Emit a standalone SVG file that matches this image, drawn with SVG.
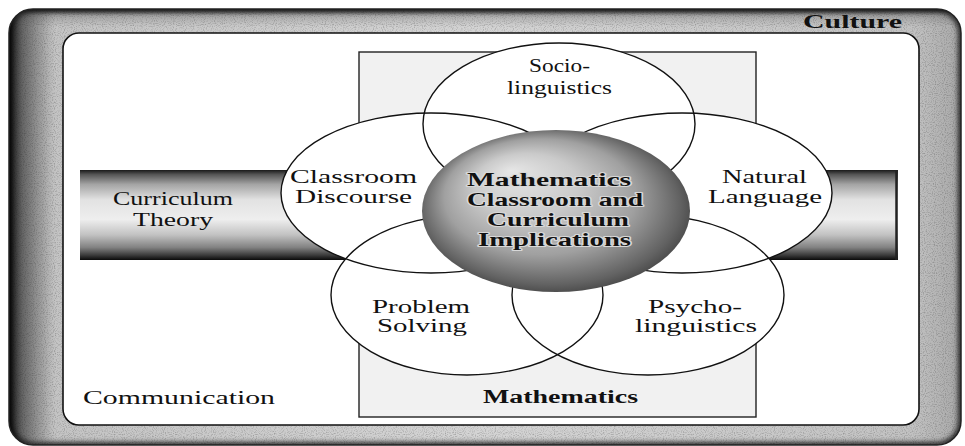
<svg xmlns="http://www.w3.org/2000/svg" width="965" height="446" viewBox="0 0 965 446">
<style>
.t{font-family:"Liberation Serif","Times New Roman",serif;font-size:18px;fill:#111}
.b{font-weight:bold}
.h{stroke:#d8d8d8;stroke-width:2.2px;paint-order:stroke;stroke-linejoin:round}
.ol{fill:none;stroke:#111;stroke-width:1.4}
.wf{fill:#fff}
</style>
<defs>
<clipPath id="outerClip"><rect x="9" y="9" width="952" height="436" rx="24"/></clipPath>
<linearGradient id="borderGrad" x1="0" y1="0" x2="1" y2="0">
<stop offset="0" stop-color="#8a8a8a"/><stop offset="0.05" stop-color="#c4c4c4"/><stop offset="0.5" stop-color="#d4d4d4"/><stop offset="0.95" stop-color="#c2c2c2"/><stop offset="1" stop-color="#a8a8a8"/>
</linearGradient>
<linearGradient id="leftShade" x1="0" y1="0" x2="1" y2="0">
<stop offset="0" stop-color="#000" stop-opacity="0.9"/><stop offset="0.3" stop-color="#222" stop-opacity="0.45"/><stop offset="1" stop-color="#555" stop-opacity="0"/>
</linearGradient>
<linearGradient id="topShade" x1="0" y1="0" x2="0" y2="1">
<stop offset="0" stop-color="#000" stop-opacity="0.7"/><stop offset="0.35" stop-color="#333" stop-opacity="0.25"/><stop offset="1" stop-color="#555" stop-opacity="0"/>
</linearGradient>
<filter id="soft" x="-5%" y="-5%" width="110%" height="110%"><feGaussianBlur stdDeviation="2.5"/></filter>
<filter id="grain" x="0" y="0" width="100%" height="100%">
<feTurbulence type="fractalNoise" baseFrequency="0.9" numOctaves="1" seed="7"/>
<feColorMatrix type="matrix" values="0 0 0 0 0  0 0 0 0 0  0 0 0 0 0  0 0 0 1.8 -0.85"/>
</filter>
<linearGradient id="barGrad" x1="0" y1="0" x2="0" y2="1">
<stop offset="0" stop-color="#1a1a1a"/><stop offset="0.05" stop-color="#555"/><stop offset="0.16" stop-color="#a4a4a4"/><stop offset="0.33" stop-color="#e2e2e2"/><stop offset="0.55" stop-color="#eeeeee"/><stop offset="0.72" stop-color="#c2c2c2"/><stop offset="0.86" stop-color="#828282"/><stop offset="0.95" stop-color="#383838"/><stop offset="1" stop-color="#0a0a0a"/>
</linearGradient>
<radialGradient id="sphereGrad" cx="0.5" cy="0.5" r="0.55" fx="0.33" fy="0.25">
<stop offset="0" stop-color="#e6e6e6"/><stop offset="0.35" stop-color="#cacaca"/><stop offset="0.65" stop-color="#a0a0a0"/><stop offset="0.88" stop-color="#626262"/><stop offset="1" stop-color="#3a3a3a"/>
</radialGradient>
</defs>

<g id="culture">
<rect x="9" y="9" width="952" height="436" rx="24" fill="url(#borderGrad)"/>
<g clip-path="url(#outerClip)">
<rect x="9" y="9" width="952" height="436" fill="#000" filter="url(#grain)" opacity="0.35"/>
<rect x="9" y="9" width="952" height="436" rx="24" fill="none" stroke="#000" stroke-width="6" filter="url(#soft)" opacity="0.8"/>
<rect x="9" y="9" width="44" height="436" fill="url(#leftShade)"/>
<rect x="9" y="9" width="952" height="18" fill="url(#topShade)"/>
</g>
<rect x="9" y="9" width="952" height="436" rx="24" fill="none" stroke="#222" stroke-width="1.5"/>
<text class="t b" x="803" y="28" font-size="17" textLength="99" lengthAdjust="spacingAndGlyphs">Culture</text>
</g>

<g id="communication">
<rect x="63" y="33" width="856" height="392" rx="16" fill="#fff" stroke="#111" stroke-width="1.6"/>
<text class="t" x="83" y="404" textLength="192" lengthAdjust="spacingAndGlyphs">Communication</text>
</g>

<g id="mathematics">
<rect x="359" y="52" width="397" height="365" fill="#f1f1f1" stroke="#222" stroke-width="1.4"/>
<text class="t b" x="483" y="403" textLength="155" lengthAdjust="spacingAndGlyphs">Mathematics</text>
</g>

<g id="curriculum-theory">
<rect x="80" y="170" width="818" height="90" fill="url(#barGrad)"/>
<line x1="896.5" y1="170" x2="896.5" y2="260" stroke="#222" stroke-width="2.5"/>
<text class="t" x="113" y="205" textLength="120" lengthAdjust="spacingAndGlyphs">Curriculum</text>
<text class="t" x="133" y="226" textLength="80" lengthAdjust="spacingAndGlyphs">Theory</text>
</g>

<g id="circle-fills">
<ellipse class="wf" cx="559" cy="124" rx="136" ry="81"/>
<ellipse class="wf" cx="431" cy="193" rx="150" ry="80"/>
<ellipse class="wf" cx="682" cy="193" rx="150" ry="80"/>
<ellipse class="wf" cx="467" cy="295" rx="136" ry="80"/>
<ellipse class="wf" cx="648" cy="295" rx="136" ry="80"/>
</g>

<g id="sociolinguistics">
<ellipse class="ol" cx="559" cy="124" rx="136" ry="81"/>
<text class="t" x="529" y="72" textLength="61" lengthAdjust="spacingAndGlyphs">Socio-</text>
<text class="t" x="507" y="94" textLength="105" lengthAdjust="spacingAndGlyphs">linguistics</text>
</g>

<g id="classroom-discourse">
<ellipse class="ol" cx="431" cy="193" rx="150" ry="80"/>
<text class="t" x="290" y="183" textLength="127" lengthAdjust="spacingAndGlyphs">Classroom</text>
<text class="t" x="295" y="203" textLength="117" lengthAdjust="spacingAndGlyphs">Discourse</text>
</g>

<g id="natural-language">
<ellipse class="ol" cx="682" cy="193" rx="150" ry="80"/>
<text class="t" x="722" y="183" textLength="85" lengthAdjust="spacingAndGlyphs">Natural</text>
<text class="t" x="708" y="203" textLength="114" lengthAdjust="spacingAndGlyphs">Language</text>
</g>

<g id="problem-solving">
<ellipse class="ol" cx="467" cy="295" rx="136" ry="80"/>
<text class="t" x="372" y="313" textLength="98" lengthAdjust="spacingAndGlyphs">Problem</text>
<text class="t" x="377" y="332" textLength="90" lengthAdjust="spacingAndGlyphs">Solving</text>
</g>

<g id="psycholinguistics">
<ellipse class="ol" cx="648" cy="295" rx="136" ry="80"/>
<text class="t" x="648" y="313" textLength="94" lengthAdjust="spacingAndGlyphs">Psycho-</text>
<text class="t" x="635" y="332" textLength="122" lengthAdjust="spacingAndGlyphs">linguistics</text>
</g>

<g id="implications">
<ellipse cx="556" cy="211" rx="134" ry="81" fill="url(#sphereGrad)"/>
<text class="t b h" x="467" y="186" textLength="164" lengthAdjust="spacingAndGlyphs">Mathematics</text>
<text class="t b h" x="467" y="206" textLength="176" lengthAdjust="spacingAndGlyphs">Classroom and</text>
<text class="t b h" x="487" y="226" textLength="142" lengthAdjust="spacingAndGlyphs">Curriculum</text>
<text class="t b h" x="478" y="246" textLength="153" lengthAdjust="spacingAndGlyphs">Implications</text>
</g>
</svg>
